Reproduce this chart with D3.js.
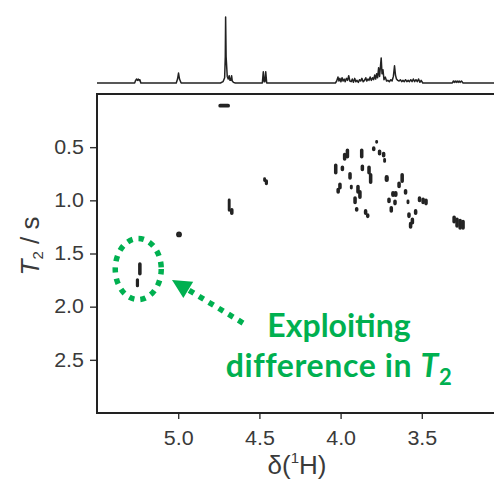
<!DOCTYPE html>
<html>
<head>
<meta charset="utf-8">
<script src="https://cdn.jsdelivr.net/npm/d3@7"></script>
<style>
  body { margin: 0; background: #fff; }
  svg { display: block; }
  .axis text { font-family: "Liberation Sans", Arial, sans-serif; font-size: 19.5px; fill: #3a3a3a; }
  .axis line { stroke: #333; stroke-width: 1.4; }
</style>
</head>
<body>
<svg width="494" height="484"></svg>
<script>
// 1H spectrum on top: [ppm, intensity]
const spectrum = [
  [5.50,0],[5.268,0],[5.262,4],[5.256,6],[5.251,4],[5.246,6],[5.241,4],[5.236,5],[5.230,0],
  [5.012,0],[5.004,6],[4.998,15],[4.992,6],[4.982,0],
  [4.740,0],[4.724,2],[4.714,8],[4.710,40],[4.708,100],[4.705,40],[4.698,10],[4.692,6],[4.686,11],[4.681,4],[4.676,4],[4.671,11],[4.667,3],[4.660,1],[4.648,0],
  [4.482,0],[4.476,17],[4.471,2],[4.466,2],[4.461,17],[4.455,0],
  [4.032,0],[4.024,3],[4.016,9],[4.010,3],[4.004,7],[3.998,2],[3.991,8],[3.985,3],[3.978,6],[3.972,2],[3.964,7],[3.957,4],[3.950,11],[3.943,3],[3.935,2],[3.928,6],[3.921,1],[3.913,7],[3.906,2],[3.899,4],[3.891,1],[3.883,5],[3.876,3],[3.869,7],[3.861,2],[3.853,4],[3.845,8],[3.839,3],[3.832,6],[3.825,4],[3.818,9],[3.811,4],[3.803,8],[3.797,5],[3.790,12],[3.784,6],[3.778,14],[3.772,8],[3.766,23],[3.760,10],[3.750,38],[3.745,14],[3.739,20],[3.733,5],[3.725,9],[3.717,3],[3.709,4],[3.700,2],[3.691,5],[3.683,3],[3.675,10],[3.668,26],[3.662,12],[3.656,6],[3.648,4],[3.640,3],[3.632,5],[3.624,2],[3.616,4],[3.608,2],[3.600,5],[3.592,2],[3.584,4],[3.576,2],[3.568,5],[3.560,2],[3.552,6],[3.544,2],[3.536,5],[3.528,2],[3.520,6],[3.512,1],[3.504,4],[3.494,0],
  [3.312,0],[3.306,3],[3.300,1],[3.294,3],[3.288,1],[3.282,3],[3.276,1],[3.270,3],[3.264,1],[3.256,3],[3.246,0],[3.00,0]
];

// 2D contours: [ppm left, ppm right, T2 top, T2 bottom]
const contours = [
  [4.748,4.686,0.10,0.12],
  [4.472,4.464,0.79,0.82],[4.462,4.452,0.81,0.85],
  [4.690,4.682,0.99,1.10],[4.676,4.664,1.08,1.13],
  [5.008,4.982,1.30,1.34],
  [5.242,5.230,1.59,1.70],[5.256,5.246,1.74,1.81],
  [3.964,3.952,0.52,0.60],[3.981,3.969,0.56,0.62],[3.876,3.864,0.52,0.60],
  [3.782,3.774,0.44,0.46],[3.802,3.790,0.50,0.53],[3.766,3.754,0.53,0.57],
  [3.741,3.729,0.55,0.59],[3.733,3.725,0.61,0.64],
  [4.036,4.024,0.66,0.75],[3.995,3.983,0.68,0.72],[3.872,3.860,0.67,0.72],
  [3.831,3.819,0.68,0.75],[3.948,3.936,0.74,0.80],[3.821,3.809,0.75,0.84],
  [3.724,3.708,0.77,0.82],[3.627,3.615,0.75,0.83],[3.646,3.634,0.83,0.88],
  [4.010,3.998,0.84,0.89],[4.021,4.009,0.89,0.93],[3.938,3.930,0.86,0.89],
  [3.899,3.887,0.86,0.93],[3.887,3.875,0.91,0.98],[3.917,3.905,0.97,1.03],
  [3.907,3.895,1.07,1.10],[3.852,3.840,1.09,1.13],[3.839,3.827,1.13,1.16],
  [3.684,3.670,0.92,0.96],[3.668,3.654,0.92,0.96],[3.606,3.594,0.90,0.94],
  [3.708,3.696,0.98,1.02],[3.671,3.659,1.00,1.04],[3.589,3.581,1.00,1.03],
  [3.694,3.682,1.06,1.11],
  [3.520,3.508,0.97,1.01],[3.498,3.486,0.98,1.03],[3.480,3.468,0.99,1.04],
  [3.544,3.532,1.09,1.13],[3.585,3.573,1.12,1.16],
  [3.564,3.552,1.17,1.22],[3.575,3.563,1.21,1.26],
  [3.307,3.295,1.15,1.21],[3.289,3.277,1.17,1.25],[3.270,3.258,1.18,1.27],[3.252,3.240,1.19,1.27]
];

const xTicks = [5.0, 4.5, 4.0, 3.5];
const yTicks = [0.5, 1.0, 1.5, 2.0, 2.5];

// annotation anchors in data units
const circleCenter = [5.246, 1.646];
const arrowTip = [5.038, 1.749];
const arrowTail = [4.601, 2.154];

const green = "#00b050";
const plot = {left: 97, top: 94, right: 503, bottom: 413};

var svg = d3.select("svg");

var x = d3.scaleLinear().domain([5.5, 3.0]).range([plot.left, plot.right]);
var y = d3.scaleLinear().domain([0, 3]).range([plot.top, plot.bottom]);
var ySpec = d3.scaleLinear().domain([0, 100]).range([83, 17]);

// top spectrum
var line = d3.line()
  .x(function(d) { return x(d[0]); })
  .y(function(d) { return ySpec(d[1]); });
svg.append("path")
  .datum(spectrum)
  .attr("d", line)
  .attr("fill", "none")
  .attr("stroke", "#222")
  .attr("stroke-width", 1.5)
  .attr("stroke-linejoin", "round");

// axes
var xAxis = d3.axisBottom(x).tickValues(xTicks).tickSize(6).tickPadding(12).tickFormat(d3.format(".1f"));
var gx = svg.append("g")
  .attr("class", "axis")
  .attr("transform", "translate(0," + plot.bottom + ")")
  .call(xAxis);
gx.select(".domain").remove();
gx.selectAll(".tick text").attr("transform", "scale(1.1,1)");

var yAxis = d3.axisLeft(y).tickValues(yTicks).tickSize(7).tickPadding(6).tickFormat(d3.format(".1f"));
var gy = svg.append("g")
  .attr("class", "axis")
  .attr("transform", "translate(" + plot.left + ",0)")
  .call(yAxis);
gy.select(".domain").remove();
gy.selectAll(".tick text").attr("x", -13 / 1.1).attr("transform", "scale(1.1,1)");

// frame
svg.append("rect")
  .attr("x", plot.left)
  .attr("y", plot.top)
  .attr("width", plot.right - plot.left)
  .attr("height", plot.bottom - plot.top)
  .attr("fill", "none")
  .attr("stroke", "#222")
  .attr("stroke-width", 2);

// contours
svg.append("g")
  .selectAll("rect")
  .data(contours)
  .join("rect")
  .attr("x", function(d) { return x(d[0]); })
  .attr("y", function(d) { return y(d[2]); })
  .attr("width", function(d) { return x(d[1]) - x(d[0]); })
  .attr("height", function(d) { return y(d[3]) - y(d[2]); })
  .attr("rx", function(d) { return Math.min(x(d[1]) - x(d[0]), y(d[3]) - y(d[2])) / 2; })
  .attr("fill", "#2a2a2a")
  .attr("stroke", "#222")
  .attr("stroke-width", 1.6);

// axis titles
var xt = svg.append("text")
  .attr("x", 297)
  .attr("y", 474)
  .attr("text-anchor", "middle")
  .attr("font-family", "Liberation Sans, Arial, sans-serif")
  .attr("font-size", 26)
  .attr("fill", "#3a3a3a");
xt.append("tspan").text("\u03b4(");
xt.append("tspan").attr("font-size", 15).attr("dy", -11).text("1");
xt.append("tspan").attr("dy", 11).text("H)");

var yt = svg.append("text")
  .attr("transform", "translate(39,246) rotate(-90)")
  .attr("text-anchor", "middle")
  .attr("font-family", "Liberation Sans, Arial, sans-serif")
  .attr("font-size", 26)
  .attr("fill", "#3a3a3a");
yt.append("tspan").attr("font-style", "italic").text("T");
yt.append("tspan").attr("font-size", 15).attr("dy", 4).text("2");
yt.append("tspan").attr("dy", -4).text(" / s");

// annotation
svg.append("ellipse")
  .attr("cx", x(circleCenter[0]))
  .attr("cy", y(circleCenter[1]))
  .attr("rx", 23)
  .attr("ry", 30.5)
  .attr("fill", "none")
  .attr("stroke", green)
  .attr("stroke-width", 5.5)
  .attr("stroke-dasharray", "5.5,6");

var tip = [x(arrowTip[0]), y(arrowTip[1])];
var tail = [x(arrowTail[0]), y(arrowTail[1])];
var dx = tip[0] - tail[0], dy = tip[1] - tail[1];
var len = Math.sqrt(dx * dx + dy * dy);
var ux = dx / len, uy = dy / len;
var headLen = 19, headHalf = 9.5;
var base = [tip[0] - ux * headLen, tip[1] - uy * headLen];

svg.append("line")
  .attr("x1", tail[0]).attr("y1", tail[1])
  .attr("x2", base[0] + ux * 2).attr("y2", base[1] + uy * 2)
  .attr("stroke", green)
  .attr("stroke-width", 5.5)
  .attr("stroke-dasharray", "5.5,6");

svg.append("path")
  .attr("d", "M" + tip[0] + "," + tip[1] +
             "L" + (base[0] - uy * headHalf) + "," + (base[1] + ux * headHalf) +
             "L" + (base[0] + uy * headHalf) + "," + (base[1] - ux * headHalf) + "Z")
  .attr("fill", green);

var note = svg.append("g")
  .attr("font-family", "Lato, 'Open Sans', sans-serif")
  .attr("font-weight", "bold")
  .attr("font-size", 32)
  .attr("fill", green)
  .attr("text-anchor", "middle");
note.append("text").attr("x", 339).attr("y", 337).text("Exploiting");
var l2 = note.append("text").attr("x", 339).attr("y", 377).attr("letter-spacing", 0.6);
l2.append("tspan").text("difference in ");
l2.append("tspan").attr("font-style", "italic").text("T");
l2.append("tspan").attr("font-size", 22).attr("dy", 8).text("2");
</script>
</body>
</html>
